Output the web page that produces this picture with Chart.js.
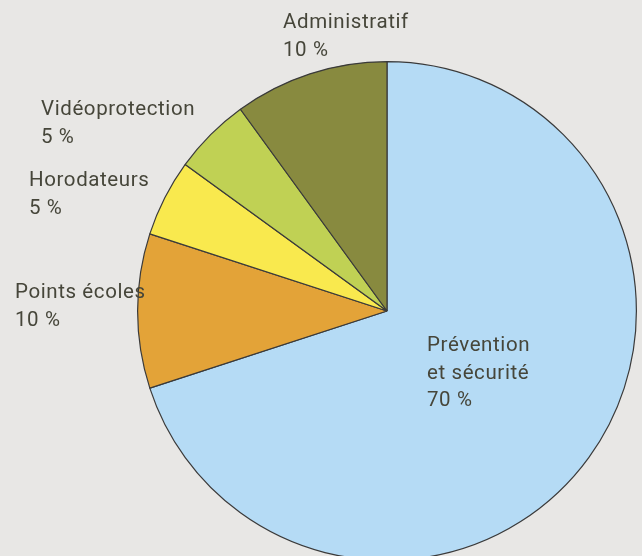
<!DOCTYPE html>
<html lang="fr">
<head>
    <meta charset="UTF-8">
    <title>Répartition</title>
    <script src="https://cdn.jsdelivr.net/npm/chart.js"></script>
    <style>
        html, body { margin: 0; padding: 0; background: #e8e7e5; overflow: hidden; }
        .chart-box { position: absolute; left: 0; top: 0; width: 642px; height: 566px; }
    </style>
</head>
<body>
    <div class="chart-box">
        <canvas id="pieChart" width="642" height="566"></canvas>
    </div>

    <script>
        // data, clockwise from the top
        const categories = [['Prévention', 'et sécurité'], ['Points écoles'], ['Horodateurs'], ['Vidéoprotection'], ['Administratif']];
        const shares = [70, 10, 5, 5, 10];
        const sliceColors = ['#b5dbf5', '#e3a338', '#f9e94e', '#c0d154', '#888a3f'];

        // where each label block starts (left, first line centre)
        const labelSpots = [[427, 346], [15, 293], [29, 181], [41, 110], [283, 23]];

        const labelPlugin = {
            id: 'sliceLabels',
            afterDraw(chart) {
                const ctx = chart.ctx;
                ctx.save();
                ctx.font = '20.5px Roboto';
                ctx.letterSpacing = '0.6px';
                ctx.fillStyle = '#46463a';
                ctx.textAlign = 'left';
                ctx.textBaseline = 'middle';
                categories.forEach((lines, i) => {
                    const [x, y] = labelSpots[i];
                    const all = lines.concat([shares[i] + ' %']);
                    all.forEach((t, k) => ctx.fillText(t, x, y + k * 27.5));
                });
                ctx.restore();
            }
        };

        new Chart(document.getElementById('pieChart'), {
            type: 'pie',
            data: {
                labels: categories.map(c => c.join(' ')),
                datasets: [{
                    data: shares,
                    backgroundColor: sliceColors,
                    borderColor: '#3a3a3a',
                    borderWidth: 1.2
                }]
            },
            options: {
                responsive: false,
                animation: false,
                layout: { padding: { left: 137, right: 5, top: 61, bottom: 5 } },
                plugins: {
                    legend: { display: false },
                    tooltip: { enabled: false }
                }
            },
            plugins: [labelPlugin]
        });
    </script>
</body>
</html>
